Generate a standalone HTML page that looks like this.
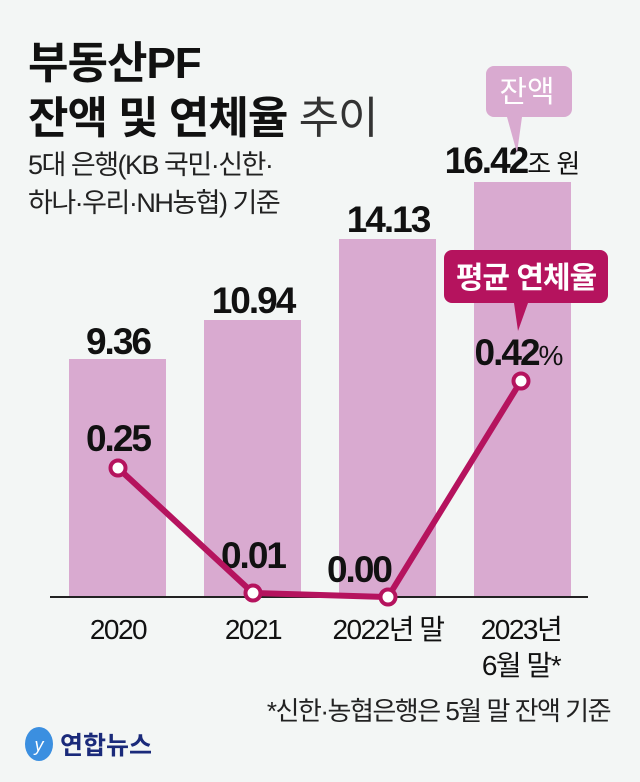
<!DOCTYPE html>
<html><head><meta charset="utf-8"><style>
body{margin:0;background:#f3f6f5;}
svg text{font-family:"Liberation Sans","Noto Sans CJK KR",sans-serif;}
</style></head><body>
<svg width="640" height="777" viewBox="0 0 640 777" xmlns="http://www.w3.org/2000/svg">
<rect width="640" height="777" fill="#f3f6f5"/>
<text x="28" y="78" font-size="44" font-weight="bold" fill="#111" letter-spacing="-1">부동산PF</text>
<text x="28" y="133" font-size="44" font-weight="bold" fill="#111" letter-spacing="-1">잔액 및 연체율 <tspan font-weight="normal" fill="#333">추이</tspan></text>
<text x="28" y="174" font-size="27" fill="#222" letter-spacing="-1.5">5대 은행(KB 국민·신한·</text>
<text x="28" y="212" font-size="27" fill="#222" letter-spacing="-1.5">하나·우리·NH농협) 기준</text>
<g fill="#d9aad0">
<rect x="69" y="359" width="97" height="238"/>
<rect x="204" y="320" width="97" height="277"/>
<rect x="339" y="239" width="97" height="358"/>
<rect x="474" y="182" width="97" height="415"/>
</g>
<line x1="50" y1="597" x2="588" y2="597" stroke="#222" stroke-width="2"/>
<g font-size="37" font-weight="bold" fill="#111" text-anchor="middle" letter-spacing="-2">
<text x="118" y="354">9.36</text>
<text x="253" y="313">10.94</text>
<text x="388" y="232">14.13</text>
<text x="512" y="173">16.42<tspan font-size="26" font-weight="normal" letter-spacing="-1">조 원</tspan></text>
<text x="118" y="451">0.25</text>
<text x="253" y="568">0.01</text>
<text x="359" y="582">0.00</text>
<text x="518" y="365">0.42<tspan font-size="28" font-weight="normal">%</tspan></text>
</g>
<path d="M494 66h70a8 8 0 0 1 8 8v35a8 8 0 0 1-8 8h-42l-5 36-10-36h-13a8 8 0 0 1-8-8v-35a8 8 0 0 1 8-8z" fill="#d9aad0"/>
<text x="527" y="102" font-size="30" fill="#fff" text-anchor="middle">잔액</text>
<path d="M452 250h148a8 8 0 0 1 8 8v37a8 8 0 0 1-8 8h-72l-10 28-4-28h-62a8 8 0 0 1-8-8v-37a8 8 0 0 1 8-8z" fill="#b5135e"/>
<text x="526" y="288" font-size="30" font-weight="bold" fill="#fff" text-anchor="middle" letter-spacing="-1">평균 연체율</text>
<polyline points="118,468 253,593 388,597 521,381" fill="none" stroke="#b5135e" stroke-width="6" stroke-linejoin="round"/>
<g fill="#fff" stroke="#b5135e" stroke-width="4">
<circle cx="118" cy="468" r="7.5"/><circle cx="253" cy="593" r="7.5"/><circle cx="388" cy="597" r="7.5"/><circle cx="521" cy="381" r="7.5"/>
</g>
<g font-size="28" fill="#111" text-anchor="middle" letter-spacing="-1.5">
<text x="118" y="639">2020</text>
<text x="253" y="639">2021</text>
<text x="388" y="639">2022년 말</text>
<text x="521" y="639">2023년</text>
<text x="521" y="675">6월 말*</text>
</g>
<text x="610" y="720" font-size="26" fill="#222" text-anchor="end" letter-spacing="-1.5">*신한·농협은행은 5월 말 잔액 기준</text>
<ellipse cx="39" cy="744" rx="14" ry="17" fill="#3b8fe0"/>
<text x="39" y="751" font-size="18" font-style="italic" fill="#fff" text-anchor="middle">y</text>
<text x="60" y="754" font-size="25" font-weight="bold" fill="#1a2a7a">연합뉴스</text>
</svg>
</body></html>
